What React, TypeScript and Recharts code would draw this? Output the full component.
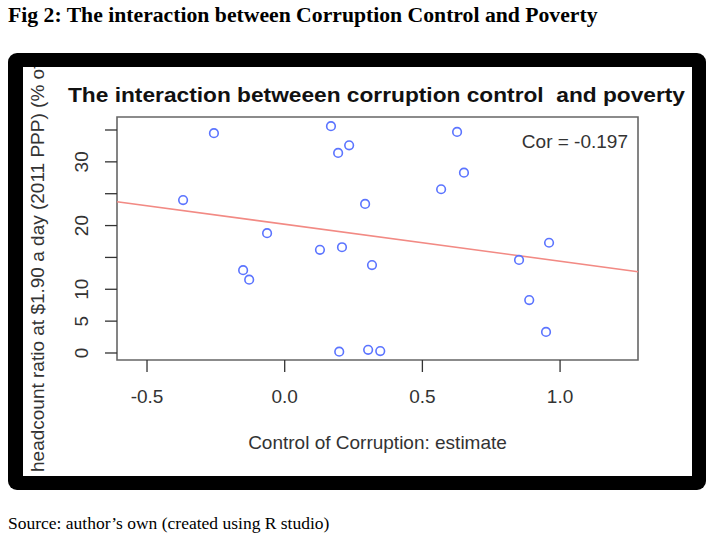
import { ScatterChart, Scatter, XAxis, YAxis, ReferenceArea, ReferenceLine } from 'recharts'

// Control of Corruption estimate vs poverty headcount ratio
const CONTROL = [
  -0.257, -0.369, 0.168, 0.194, 0.234, -0.064, 0.128, 0.208, -0.151, -0.129, 0.626,
  0.651, 0.568, 0.292, 0.960, 0.851, 0.317, 0.888, 0.949, 0.303, 0.347, 0.198,
]
const POVERTY = [
  34.5, 24.0, 35.6, 31.4, 32.6, 18.8, 16.2, 16.6, 13.0, 11.5, 34.7,
  28.3, 25.7, 23.4, 17.3, 14.6, 13.8, 8.3, 3.3, 0.5, 0.3, 0.2,
]
// fitted line, endpoints at the plot edges
const FIT_X = [-0.609, 1.283]
const FIT_Y = [23.75, 12.76]

const X_TICKS = [-0.5, 0.0, 0.5, 1.0]
const Y_TICKS = [0, 5, 10, 15, 20, 25, 30, 35]
const Y_LABELS = [0, 5, 10, 20, 30]
const X_DOMAIN = [-0.609, 1.283]
const Y_DOMAIN = [-1.1, 37.04]

const data = CONTROL.map((x, i) => ({ x, y: POVERTY[i] }))

const SANS = '"Liberation Sans", Arial, Helvetica, sans-serif'
const SERIF = '"Liberation Serif", "Times New Roman", serif'
const INK = '#333'

function XTick({ x, y, payload }: any) {
  return (
    <g>
      <line x1={x} x2={x} y1={y} y2={y + 12} stroke={INK} strokeWidth={1.3} />
      <text x={x} y={y + 43} textAnchor="middle" fontSize={19} fontFamily={SANS} fill={INK}>
        {payload.value.toFixed(1)}
      </text>
    </g>
  )
}

function YTick({ x, y, payload }: any) {
  const show = Y_LABELS.includes(payload.value)
  return (
    <g>
      <line x1={x - 12} x2={x} y1={y} y2={y} stroke={INK} strokeWidth={1.3} />
      {show && (
        <text
          x={x - 35}
          y={y}
          transform={`rotate(-90 ${x - 35} ${y})`}
          textAnchor="middle"
          dominantBaseline="central"
          fontSize={19}
          fontFamily={SANS}
          fill={INK}
        >
          {payload.value}
        </text>
      )}
    </g>
  )
}

function Ring({ cx, cy }: any) {
  return <circle cx={cx} cy={cy} r={4.3} fill="none" stroke="#5b74ff" strokeWidth={1.6} />
}

export default function App() {
  return (
    <div style={{ position: 'absolute', left: 0, top: 0, width: 715, height: 550, background: '#fff' }}>
      <div
        style={{
          position: 'absolute',
          left: 8,
          top: 3,
          fontFamily: SERIF,
          fontWeight: 700,
          fontSize: 21.7,
          color: '#000',
          whiteSpace: 'nowrap',
        }}
      >
        Fig 2: The interaction between Corruption Control and Poverty
      </div>

      <div
        style={{
          position: 'absolute',
          left: 8,
          top: 53,
          width: 698,
          height: 437,
          background: '#000',
          borderRadius: 9,
        }}
      />
      <div
        style={{
          position: 'absolute',
          left: 23,
          top: 67,
          width: 669,
          height: 409,
          background: '#fff',
          overflow: 'hidden',
        }}
      >
        <ScatterChart width={669} height={409} margin={{ top: 50, right: 54, bottom: 0, left: 0 }}>
          <XAxis
            type="number"
            dataKey="x"
            domain={X_DOMAIN}
            ticks={X_TICKS}
            axisLine={false}
            tickLine={false}
            tickSize={0}
            tickMargin={0}
            tick={<XTick />}
            height={116}
            allowDataOverflow
          />
          <YAxis
            type="number"
            dataKey="y"
            domain={Y_DOMAIN}
            ticks={Y_TICKS}
            axisLine={false}
            tickLine={false}
            tickSize={0}
            tickMargin={0}
            tick={<YTick />}
            width={94}
            allowDataOverflow
          />
          <ReferenceArea
            x1={X_DOMAIN[0]}
            x2={X_DOMAIN[1]}
            y1={Y_DOMAIN[0]}
            y2={Y_DOMAIN[1]}
            fill="none"
            stroke="#666"
            strokeWidth={1.6}
          />
          <ReferenceLine
            segment={[
              { x: FIT_X[0], y: FIT_Y[0] },
              { x: FIT_X[1], y: FIT_Y[1] },
            ]}
            stroke="#f28a84"
            strokeWidth={1.6}
          />
          <Scatter data={data} shape={<Ring />} isAnimationActive={false} />
          <text
            x={45}
            y={35}
            fontSize={21}
            fontWeight={700}
            fontFamily={SANS}
            fill="#111"
            textLength={617}
            lengthAdjust="spacingAndGlyphs"
            style={{ whiteSpace: 'pre' }}
          >
            The interaction betweeen corruption control  and poverty
          </text>
          <text x={605} y={81} textAnchor="end" fontSize={19} fontFamily={SANS} fill={INK}>
            Cor = -0.197
          </text>
          <text x={354.5} y={382} textAnchor="middle" fontSize={19} fontFamily={SANS} fill={INK}>
            Control of Corruption: estimate
          </text>
          <text
            x={21}
            y={405}
            transform="rotate(-90 21 405)"
            fontSize={19}
            fontFamily={SANS}
            fill={INK}
          >
            headcount ratio at $1.90 a day (2011 PPP) (% of population)
          </text>
        </ScatterChart>
      </div>

      <div
        style={{
          position: 'absolute',
          left: 8,
          top: 513,
          fontFamily: SERIF,
          fontSize: 17.5,
          color: '#000',
          whiteSpace: 'nowrap',
        }}
      >
        Source: author’s own (created using R studio)
      </div>
    </div>
  )
}
